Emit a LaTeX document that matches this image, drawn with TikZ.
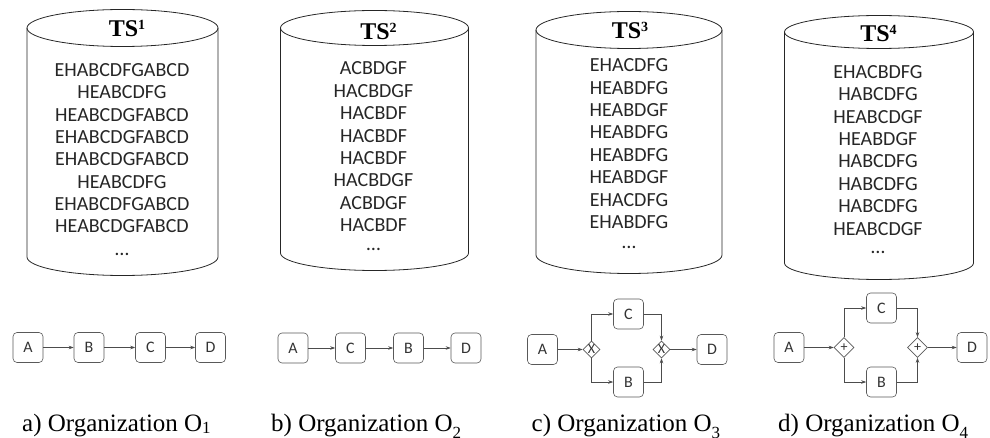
\documentclass[tikz,border=0pt]{standalone}
\usepackage{fontspec}
\setmainfont{Liberation Serif}
\newfontfamily\serfont{Liberation Serif}
\newfontfamily\seqfont{Carlito}
\usetikzlibrary{shapes.geometric,arrows.meta}
\newcommand\drawcyl[5]{%
  \draw[cyl] ({#1-#2},#4) -- ({#1-#2},#5) arc[start angle=180,end angle=360,x radius=#2,y radius=#3] -- ({#1+#2},#4);
  \draw[cyl] (#1,#4) ellipse[x radius=#2, y radius=#3];
}
\begin{document}
\begin{tikzpicture}[x=1pt,y=1pt,
  cyl/.style={draw=black!85, line width=0.8pt},
  tslabel/.style={anchor=base, inner sep=0, font=\serfont\fontsize{24}{28}\selectfont\bfseries},
  seq/.style={anchor=base, inner sep=0, font=\seqfont\fontsize{20}{24}\selectfont, text=black!85},
  task/.style={draw=black!65, line width=0.6pt, rounded corners=4pt, minimum width=30pt, minimum height=30pt, inner sep=0, font=\seqfont\fontsize{16}{18}\selectfont, text=black!80},
  gw/.style={diamond, draw=black!65, line width=0.6pt, minimum size=17pt, inner sep=0, font=\seqfont\fontsize{14}{16}\selectfont, text=black!80},
  flow/.style={draw=black!70, line width=0.6pt, -{Stealth[length=5pt,width=3.5pt]}},
  orgcap/.style={anchor=base west, inner sep=0, font=\serfont\fontsize{25}{30}\selectfont}
]
\useasboundingbox (0,0) rectangle (990,437);

% cylinders
\drawcyl{122.5}{95.5}{18.5}{409}{180}
\drawcyl{374.5}{94}{17.5}{409}{184}
\drawcyl{629}{93}{18.5}{407}{182}
\drawcyl{879}{94.5}{16.5}{405}{174}

% TS labels
\node[tslabel] (ts1) at (127,400) {TS\raisebox{7pt}{\fontsize{14}{16}\selectfont 1}};
\node[tslabel] (ts2) at (378.5,397.5) {TS\raisebox{7pt}{\fontsize{14}{16}\selectfont 2}};
\node[tslabel] (ts3) at (630,398.7) {TS\raisebox{7pt}{\fontsize{14}{16}\selectfont 3}};
\node[tslabel] (ts4) at (878.5,395.3) {TS\raisebox{7pt}{\fontsize{14}{16}\selectfont 4}};

% sequences
\foreach \s [count=\i] in {EHABCDFGABCD,HEABCDFG,HEABCDGFABCD,EHABCDGFABCD,EHABCDGFABCD,HEABCDFG,EHABCDFGABCD,HEABCDGFABCD}
  \node[seq] (sa\i) at (122,{360.3-(\i-1)*22.3}) {\s};
\node[seq] (sadots) at (122,182) {…};
\foreach \s [count=\i] in {ACBDGF,HACBDGF,HACBDF,HACBDF,HACBDF,HACBDGF,ACBDGF,HACBDF}
  \node[seq] (sb\i) at (373.5,{362-(\i-1)*22.4}) {\s};
\node[seq] (sbdots) at (373.5,186.5) {…};
\foreach \s [count=\i] in {EHACDFG,HEABDFG,HEABDGF,HEABDFG,HEABDFG,HEABDGF,EHACDFG,EHABDFG}
  \node[seq] (sc\i) at (629,{365.3-(\i-1)*22.4}) {\s};
\node[seq] (scdots) at (629,188.5) {…};
\foreach \s [count=\i] in {EHACBDFG,HABCDFG,HEABCDGF,HEABDGF,HABCDFG,HABCDFG,HABCDFG,HEABCDGF}
  \node[seq] (sd\i) at (878,{358.6-(\i-1)*22.4}) {\s};
\node[seq] (sddots) at (878,183.5) {…};

% Organization O1
\node[task] (a1) at (28,89.5) {A};
\node[task] (b1) at (89,89.5) {B};
\node[task] (c1) at (150.5,89.5) {C};
\node[task] (d1) at (210.5,89.5) {D};
\draw[flow] (a1) -- (b1);
\draw[flow] (b1) -- (c1);
\draw[flow] (c1) -- (d1);

% Organization O2
\node[task] (a2) at (293,89) {A};
\node[task] (c2) at (350.5,89) {C};
\node[task] (b2) at (408.5,89) {B};
\node[task] (d2) at (466,89) {D};
\draw[flow] (a2) -- (c2);
\draw[flow] (c2) -- (b2);
\draw[flow] (b2) -- (d2);

% Organization O3
\node[task] (a3) at (542.5,87.5) {A};
\node[gw] (x31) at (591.5,87.5) {X};
\node[task] (c3) at (628.5,123) {C};
\node[task] (b3) at (628.5,55) {B};
\node[gw] (x32) at (661.5,87.5) {X};
\node[task] (d3) at (712,87.5) {D};
\draw[flow] (a3) -- (x31);
\draw[flow] (x31.north) |- (c3.west);
\draw[flow] (x31.south) |- (b3.west);
\draw[flow] (c3.east) -| (x32.north);
\draw[flow] (b3.east) -| (x32.south);
\draw[flow] (x32) -- (d3);

% Organization O4
\node[task] (a4) at (789,89.5) {A};
\node[gw, minimum size=20pt] (p41) at (844,89.5) {+};
\node[task] (c4) at (881.5,129) {C};
\node[task] (b4) at (881.5,55) {B};
\node[gw, minimum size=20pt] (p42) at (917.5,89.5) {+};
\node[task] (d4) at (972,89.5) {D};
\draw[flow] (a4) -- (p41);
\draw[flow] (p41.north) |- (c4.west);
\draw[flow] (p41.south) |- (b4.west);
\draw[flow] (c4.east) -| (p42.north);
\draw[flow] (b4.east) -| (p42.south);
\draw[flow] (p42) -- (d4);

% captions
\node[orgcap] (capa) at (22,6) {a) Organization O\raisebox{-2pt}{\fontsize{17}{20}\selectfont 1}};
\node[orgcap] (capb) at (271,6) {b) Organization O\raisebox{-7.5pt}{\fontsize{17}{20}\selectfont 2}};
\node[orgcap] (capc) at (531.5,6) {c) Organization O\raisebox{-7.5pt}{\fontsize{17}{20}\selectfont 3}};
\node[orgcap] (capd) at (778,6) {d) Organization O\raisebox{-7.5pt}{\fontsize{17}{20}\selectfont 4}};
\end{tikzpicture}
\end{document}
